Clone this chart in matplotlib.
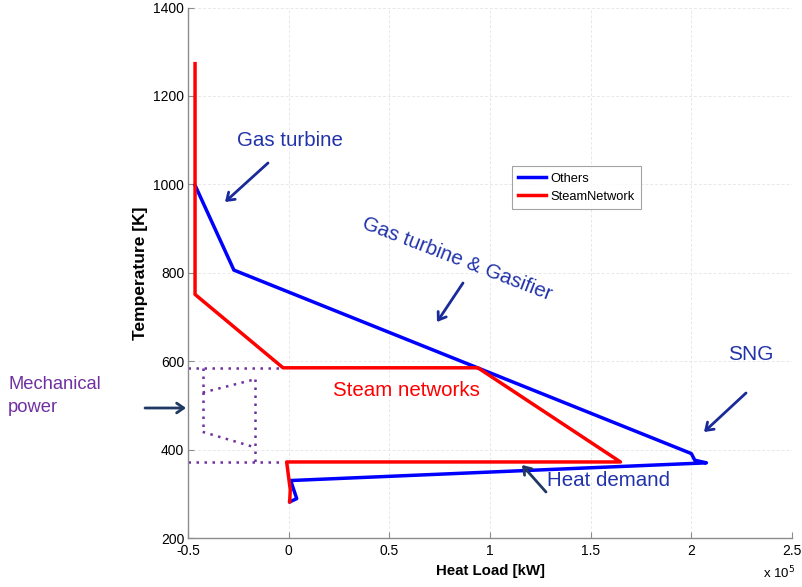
import matplotlib
matplotlib.use('Agg')
import matplotlib.pyplot as plt

plt.rcParams['font.family'] = ['Liberation Sans', 'DejaVu Sans']

# heat load in units of 1e5 kW, temperature in K
others_load = [-0.465, -0.272, 2.00, 2.017, 2.075, 0.010, 0.040, 0.006]
others_temp = [998, 806, 391, 376, 370, 330, 289, 282]

steam_load = [-0.465, -0.465, -0.028, 0.940, 1.648, -0.010, 0.008, 0.005]
steam_temp = [1273, 751, 585, 585, 372, 372, 309, 282]

# mechanical power (turbine symbol), dotted
mech_segments = [
    ([-0.50, -0.03], [585, 585]),
    ([-0.50, -0.04], [372, 372]),
    ([-0.427, -0.427], [585, 440]),
    ([-0.427, -0.167], [529, 559]),
    ([-0.427, -0.167], [440, 405]),
    ([-0.167, -0.167], [559, 372]),
]

x_ticks = [-0.5, 0, 0.5, 1, 1.5, 2, 2.5]
y_ticks = [200, 400, 600, 800, 1000, 1200, 1400]

W, H = 802, 587
fig = plt.figure(figsize=(W / 100, H / 100), dpi=100)
ax = fig.add_axes([188 / W, 1 - 538 / H, (792 - 188) / W, (538 - 7.5) / H])

def fp(x, y):
    # pixel position -> figure fraction
    return (x / W, 1 - y / H)

ax.plot(others_load, others_temp, color='#0000ff', lw=2.5, label='Others', zorder=3)
ax.plot(steam_load, steam_temp, color='#ff0000', lw=2.5, label='SteamNetwork', zorder=3)
for xs, ys in mech_segments:
    ax.plot(xs, ys, color='#7030a0', lw=1.8, ls=(0, (1, 2.2)), zorder=2)

ax.set_xlim(-0.5, 2.5)
ax.set_ylim(200, 1400)
ax.set_xticks(x_ticks)
ax.set_xticklabels(['-0.5', '0', '0.5', '1', '1.5', '2', '2.5'])
ax.set_yticks(y_ticks)
ax.grid(True, color='#e8e8e8', ls=(0, (3, 2)), lw=0.7)
for s in ['top', 'right']:
    ax.spines[s].set_visible(False)
for s in ['left', 'bottom']:
    ax.spines[s].set_color('#8c8c8c')
    ax.spines[s].set_linewidth(1.0)
ax.tick_params(direction='in', length=4, color='#8c8c8c', labelsize=10)
ax.tick_params(axis='y', pad=2.7)
ax.tick_params(axis='x', pad=4.5)
ax.set_xlabel('Heat Load [kW]', fontsize=10.8, fontweight='bold', labelpad=4)
ax.set_ylabel('Temperature [K]', fontsize=12.5, fontweight='bold', labelpad=4)
fig.text(763 / W, 1 - 573 / H, 'x 10$^5$', fontsize=9.5, va='center')

leg = ax.legend(loc='upper left', bbox_to_anchor=((512 - 188) / 604, (538 - 166) / 530.5),
                fontsize=9.3, frameon=True, fancybox=False, handlelength=2.15,
                borderpad=0.5, labelspacing=0.5, handletextpad=0.3, borderaxespad=0)
leg.get_frame().set_edgecolor('#8c8c8c')
leg.get_frame().set_linewidth(0.8)

txt_blue = '#2233aa'
arr_blue = '#1a2a9a'
navy = '#1f3864'
purple = '#7030a0'

fig.text(*fp(290, 140), 'Gas turbine', color=txt_blue, fontsize=14.8, ha='center', va='center')
fig.text(*fp(457, 259), 'Gas turbine & Gasifier', color=txt_blue, fontsize=14.8,
         ha='center', va='center', rotation=-21)
fig.text(*fp(751, 354), 'SNG', color=txt_blue, fontsize=15, ha='center', va='center')
fig.text(*fp(333, 390), 'Steam networks', color='#ff0000', fontsize=14.8, ha='left', va='center')
fig.text(*fp(547, 481), 'Heat demand', color=txt_blue, fontsize=14.8, ha='left', va='center')
fig.text(*fp(8, 396), 'Mechanical\npower', color=purple, fontsize=13.2, ha='left', va='center',
         linespacing=1.4)

arrows = [
    ((268, 163), (225, 202), arr_blue),
    ((463, 283), (437, 322), arr_blue),
    ((746, 393), (704, 432), arr_blue),
    ((546, 492), (522, 465), navy),
    ((145, 408), (186, 408), navy),
]
for (x0, y0), (x1, y1), c in arrows:
    fig.add_artist(matplotlib.patches.FancyArrowPatch(
        fp(x0, y0), fp(x1, y1), transform=fig.transFigure,
        arrowstyle='->,head_length=5,head_width=3.5', color=c, lw=2.0,
        shrinkA=0, shrinkB=0))

fig.savefig('out.png', dpi=100)
